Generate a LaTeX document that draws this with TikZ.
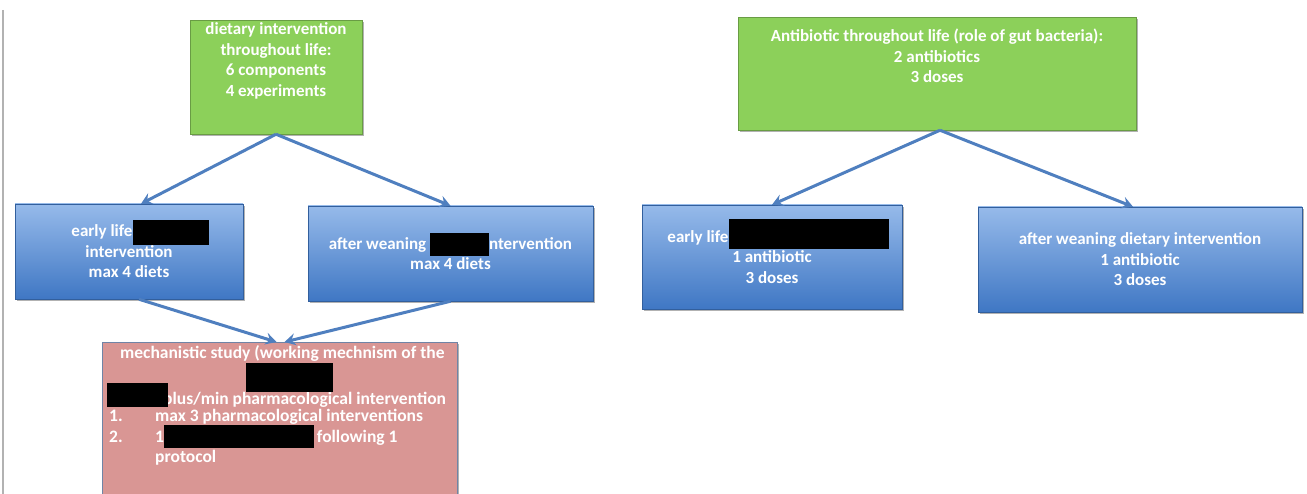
\documentclass[tikz,border=0pt]{standalone}
\usepackage{fontspec}
\setmainfont{Carlito}
\usetikzlibrary{positioning,arrows.meta,shadows}
\definecolor{boxgreen}{HTML}{8CD05A}
\definecolor{bluetop}{HTML}{96BAEA}
\definecolor{bluebot}{HTML}{3F77C4}
\definecolor{boxpink}{HTML}{D99694}
\definecolor{pinkline}{HTML}{6F84A6}
\definecolor{arrowblue}{HTML}{4F7FBF}
% black bar over hidden words: width, height, depth
\newcommand\censor[3]{\smash{\textcolor{black}{\rule[-#3pt]{#1pt}{\dimexpr#2pt+#3pt\relax}}}}
\tikzset{
  box/.style={inner sep=0pt, align=center, text=white,
    font=\bfseries\fontsize{17}{20.5}\selectfont,
    drop shadow={shadow xshift=2pt, shadow yshift=-2pt, fill=black!60, opacity=.5}},
  greenbox/.style={box, fill=boxgreen, draw=boxgreen!75!black, line width=.5pt},
  bluebox/.style={box, top color=bluetop, bottom color=bluebot, draw=bluebot!80!black, line width=.5pt},
  pinkbox/.style={box, fill=boxpink, draw=pinkline, line width=1pt},
  boxtext/.style={inner sep=0pt, align=center, text=white, font=\bfseries\fontsize{17}{20.5}\selectfont},
  linetext/.style={inner sep=0pt, anchor=base west, text=white, font=\bfseries\fontsize{17.5}{20.5}\selectfont},
  flow/.style={draw=arrowblue, line width=3pt, -{Stealth[length=11pt,width=12pt,inset=4pt]}}
}

\begin{document}
\begin{tikzpicture}[x=1pt,y=-1pt]
  \useasboundingbox (0,0) rectangle (1307,494);
  % page edge
  \draw[gray!60, line width=1.5pt] (3,10) -- (3,494);
  % dietary tree
  \node[greenbox, minimum width=172pt, minimum height=114pt] (diet) at (276,77) {};
  \node[boxtext, below=3pt of diet.north] (diettxt) {dietary intervention\\throughout life:\\6 components\\4 experiments};
  \node[bluebox, minimum width=228pt, minimum height=95pt] (early) at (129,251.5)
    {\hspace*{22pt}early life\censor{76}{17}{8}\\intervention\\max 4 diets};
  \node[bluebox, minimum width=285pt, minimum height=95pt] (wean) at (450.5,253.5)
    {after weaning \censor{59}{16}{7}ntervention\\max 4 diets};
  \node[pinkbox, minimum width=355pt, minimum height=160pt, anchor=north] (mech) at (279.5,342) {};
  \node[linetext] (mech1) at (120,359) {mechanistic study (working mechnism of the};
  \node[linetext] (mech3) at (163,404) {plus/min pharmacological intervention};
  \node[linetext] (num1) at (109,421) {1.};
  \node[linetext] (item1) at (155,421) {max 3 pharmacological interventions};
  \node[linetext] (num2) at (109,442) {2.};
  \node[linetext] (item2) at (155,442) {1\censor{150}{17}{6}\,following 1};
  \node[linetext] (item2b) at (155,462) {protocol};
  \fill (246,363) rectangle (333,392);
  \fill (107,383) rectangle (168,407);
  % antibiotic tree
  \node[greenbox, minimum width=398pt, minimum height=113pt] (abx) at (937,73.5) {};
  \node[boxtext, below=12pt of abx.north] (abxtxt) {Antibiotic throughout life (role of gut bacteria):\\2 antibiotics\\3 doses};
  \node[bluebox, minimum width=260pt, minimum height=104pt] (abxearly) at (772,257)
    {\hspace*{12pt}early life\censor{160}{23}{7}\\1 antibiotic\\3 doses};
  \node[bluebox, minimum width=324pt, minimum height=105pt] (abxwean) at (1140,259.5)
    {after weaning dietary intervention\\1 antibiotic\\3 doses};
  % arrows
  \draw[flow] (diet.south) -- ([xshift=12pt]early.north);
  \draw[flow] (diet.south) -- (wean.north);
  \draw[flow] ([xshift=10pt]early.south) -- ([xshift=-3pt]mech.north);
  \draw[flow] (wean.south) -- ([xshift=5pt]mech.north);
  \draw[flow] ([xshift=3pt]abx.south) -- (abxearly.north);
  \draw[flow] ([xshift=3pt]abx.south) -- ([xshift=-7pt]abxwean.north);
\end{tikzpicture}
\end{document}
